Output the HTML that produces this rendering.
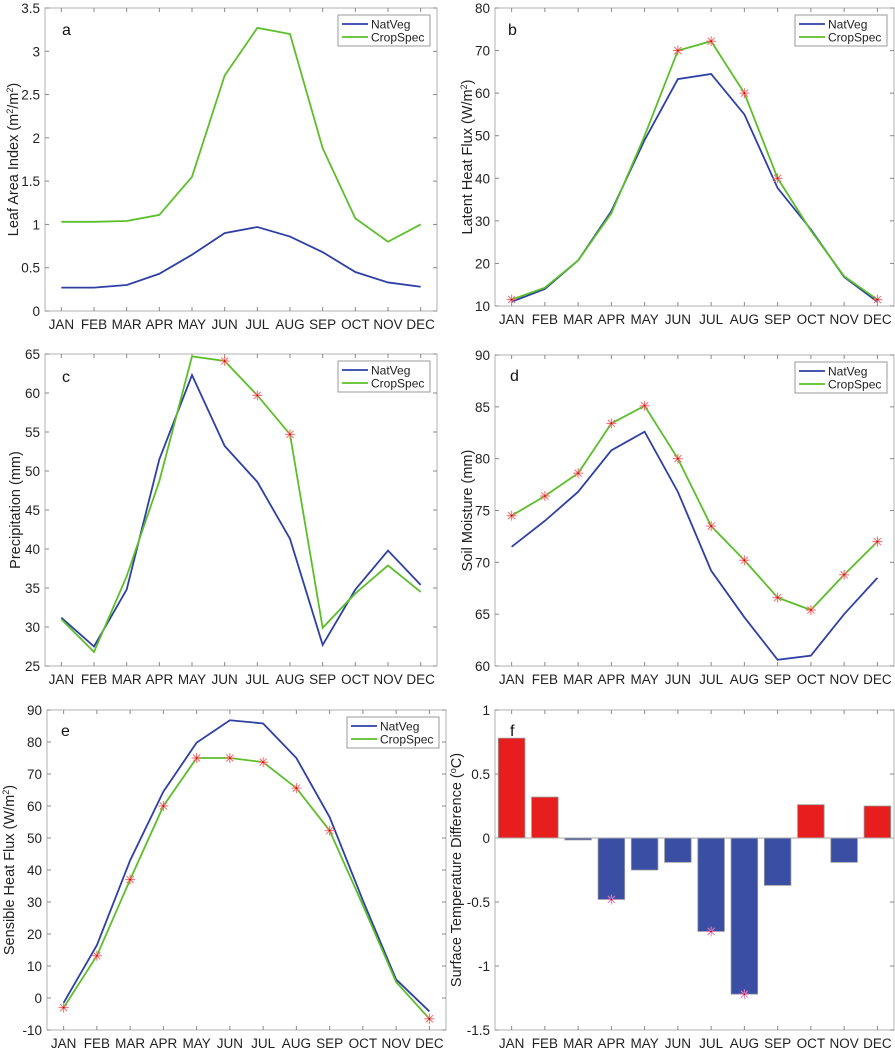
<!DOCTYPE html>
<html><head><meta charset="utf-8">
<style>
html,body{margin:0;padding:0;background:#fff;}
svg{display:block;font-family:"Liberation Sans",Arial,sans-serif;}
</style></head>
<body>
<svg id="fig" width="895" height="1050" viewBox="0 0 895 1050"></svg>
<script>
const months = ["JAN","FEB","MAR","APR","MAY","JUN","JUL","AUG","SEP","OCT","NOV","DEC"];
const laiNat = [0.27,0.27,0.30,0.43,0.65,0.90,0.97,0.86,0.68,0.45,0.33,0.28];
const laiCrop = [1.03,1.03,1.04,1.11,1.55,2.72,3.27,3.20,1.88,1.07,0.80,1.00];
const lhNat = [11,14,20.7,32.3,49,63.3,64.5,55,37.7,28,16.8,11];
const lhCrop = [11.5,14.3,20.7,31.8,50,70,72.2,60,40,27.7,17,11.5];
const lhStars = [1,0,0,0,0,1,1,1,1,0,0,1];
const prNat = [31.2,27.5,34.8,51.5,62.3,53.2,48.6,41.3,27.7,34.8,39.8,35.4];
const prCrop = [31,26.8,36.5,48.7,64.7,64.1,59.7,54.7,29.9,34.3,37.9,34.5];
const prStars = [0,0,0,0,0,1,1,1,0,0,0,0];
const smNat = [71.5,74,76.8,80.8,82.6,76.8,69.2,64.7,60.6,61,65,68.5];
const smCrop = [74.5,76.4,78.6,83.4,85.1,80,73.5,70.2,66.6,65.4,68.8,72];
const smStars = [1,1,1,1,1,1,1,1,1,1,1,1];
const shNat = [-1.5,16.5,43,64.5,79.8,86.8,85.8,75,56.5,30.5,5.8,-4.2];
const shCrop = [-3,13.2,37,60,75,75,73.7,65.6,52.3,29,5,-6.5];
const shStars = [1,1,1,1,1,1,1,1,1,0,0,1];
const tdVals = [0.78,0.32,-0.015,-0.48,-0.25,-0.19,-0.73,-1.22,-0.37,0.26,-0.19,0.25];
const tdStars = [0,0,0,1,0,0,1,1,0,0,0,0];
const ticksA = ["0","0.5","1","1.5","2","2.5","3","3.5"];
const ticksB = ["10","20","30","40","50","60","70","80"];
const ticksC = ["25","30","35","40","45","50","55","60","65"];
const ticksD = ["60","65","70","75","80","85","90"];
const ticksE = ["-10","0","10","20","30","40","50","60","70","80","90"];
const ticksF = ["-1.5","-1","-0.5","0","0.5","1"];

const NS="http://www.w3.org/2000/svg";
const svg=document.getElementById('fig');
function mk(tag,attrs,parent){const e=document.createElementNS(NS,tag);for(const k in attrs)e.setAttribute(k,attrs[k]);(parent||svg).appendChild(e);return e;}
const BLUE="#2e3fa6", GREEN="#5cbf2a", STAR="#f26a6a";

function panel(o){
  const g=mk('g',{});
  
  
  const L=o.l,R=o.r,T=o.t,B=o.b;
  const ymin=parseFloat(o.ticks[0]), ymax=parseFloat(o.ticks[o.ticks.length-1]);
  const xs=i=>L+(i+0.5)*(R-L)/12;
  const ys=v=>B-(v-ymin)/(ymax-ymin)*(B-T);
  mk('rect',{x:L,y:T,width:R-L,height:B-T,fill:'#fff',stroke:'#b0b0b0','stroke-width':1},g);
  months.forEach((m,i)=>{
    const x=xs(i);
    mk('line',{x1:x,y1:B,x2:x,y2:B-4,stroke:'#888','stroke-width':1},g);
    mk('line',{x1:x,y1:T,x2:x,y2:T+4,stroke:'#888','stroke-width':1},g);
    const t=mk('text',{x:x,y:B+18,'text-anchor':'middle','font-size':13.5,fill:'#222'},g);
    t.textContent=m;
    
    
  });
  o.ticks.forEach(s=>{
    const y=ys(parseFloat(s));
    mk('line',{x1:L,y1:y,x2:L+4,y2:y,stroke:'#888','stroke-width':1},g);
    mk('line',{x1:R,y1:y,x2:R-4,y2:y,stroke:'#888','stroke-width':1},g);
    const t=mk('text',{x:L-5,y:y+5,'text-anchor':'end','font-size':13.5,fill:'#222'},g);
    t.textContent=s;
    
    
  });
  const yt=mk('text',{transform:`translate(${o.yx},${(T+B)/2}) rotate(-90)`,'text-anchor':'middle','font-size':14.5,fill:'#222'},g);
  yt.innerHTML=o.ytitle;
  
  
  if(o.bars){
    const bw=0.8*(R-L)/12;
    o.bars.forEach((v,i)=>{
      const y0=ys(0),y1=ys(v);
      const r=mk('rect',{x:xs(i)-bw/2,y:Math.min(y0,y1),width:bw,height:Math.max(Math.abs(y1-y0),1),fill:v>=0?'#e81e1e':'#3a4fa3',stroke:'#999','stroke-width':0.8},g);
      
      
    });
    mk('line',{x1:L,y1:ys(0),x2:R,y2:ys(0),stroke:'#aaa','stroke-width':1},g);
    o.stars.forEach((s,i)=>{if(s)star(g,xs(i),ys(o.bars[i]),'#e080c0');});
  } else {
    [[o.nat,BLUE,'natveg-line'],[o.crop,GREEN,'cropspec-line']].forEach(([d,c,n])=>{
      const p=mk('polyline',{points:d.map((v,i)=>xs(i)+','+ys(v)).join(' '),fill:'none',stroke:c,'stroke-width':1.8},g);
      
      
    });
    if(o.stars)o.stars.forEach((s,i)=>{if(s)star(g,xs(i),ys(o.crop[i]),STAR);});
    const lw=92,lh=31,lx=R-lw-7,ly=T+7;
    const lg=mk('g',{},g);
    
    
    mk('rect',{x:lx,y:ly,width:lw,height:lh,fill:'#fff',stroke:'#999','stroke-width':1},lg);
    mk('line',{x1:lx+4,y1:ly+9,x2:lx+30,y2:ly+9,stroke:BLUE,'stroke-width':1.8},lg);
    mk('line',{x1:lx+4,y1:ly+22,x2:lx+30,y2:ly+22,stroke:GREEN,'stroke-width':1.8},lg);
    const t1=mk('text',{x:lx+33,y:ly+13.5,'font-size':12,fill:'#222'},lg);t1.textContent='NatVeg';
    
    
    const t2=mk('text',{x:lx+33,y:ly+26.5,'font-size':12,fill:'#222'},lg);t2.textContent='CropSpec';
    
    
  }
  const pl=mk('text',{x:o.lx,y:o.ly,'font-size':16,fill:'#111'},g);
  pl.textContent=o.letter;
  
  
}
function star(g,x,y,c){
  const s=mk('g',{stroke:c,'stroke-width':1},g);
  
  
  const r=5;
  for(let a=0;a<4;a++){const th=a*Math.PI/4;mk('line',{x1:x-r*Math.cos(th),y1:y-r*Math.sin(th),x2:x+r*Math.cos(th),y2:y+r*Math.sin(th)},s);}
  mk('circle',{cx:x,cy:y,r:0.9,fill:'#c00',stroke:'none'},s);
}
panel({name:'panel-a-lai',l:45,r:437,t:8,b:311,ticks:ticksA,nat:laiNat,crop:laiCrop,letter:'a',lx:62,ly:35,yx:18,ytitle:'Leaf Area Index (m<tspan baseline-shift="super" font-size="9">2</tspan>/m<tspan baseline-shift="super" font-size="9">2</tspan>)'});
panel({name:'panel-b-latent-heat',l:495,r:894,t:8,b:306,ticks:ticksB,nat:lhNat,crop:lhCrop,stars:lhStars,letter:'b',lx:508,ly:35,yx:472,ytitle:'Latent Heat Flux (W/m<tspan baseline-shift="super" font-size="9">2</tspan>)'});
panel({name:'panel-c-precipitation',l:45,r:437,t:354,b:666,ticks:ticksC,nat:prNat,crop:prCrop,stars:prStars,letter:'c',lx:62,ly:382,yx:20,ytitle:'Precipitation (mm)'});
panel({name:'panel-d-soil-moisture',l:495,r:894,t:355,b:666,ticks:ticksD,nat:smNat,crop:smCrop,stars:smStars,letter:'d',lx:510,ly:381,yx:472,ytitle:'Soil Moisture (mm)'});
panel({name:'panel-e-sensible-heat',l:47,r:446,t:710,b:1030,ticks:ticksE,nat:shNat,crop:shCrop,stars:shStars,letter:'e',lx:61,ly:736,yx:14,ytitle:'Sensible Heat Flux (W/m<tspan baseline-shift="super" font-size="9">2</tspan>)'});
panel({name:'panel-f-temperature-difference',l:495,r:894,t:710,b:1030,ticks:ticksF,bars:tdVals,stars:tdStars,letter:'f',lx:510,ly:736,yx:461,ytitle:'Surface Temperature Difference  (<tspan baseline-shift="super" font-size="9">o</tspan>C)'});
</script>
</body></html>
